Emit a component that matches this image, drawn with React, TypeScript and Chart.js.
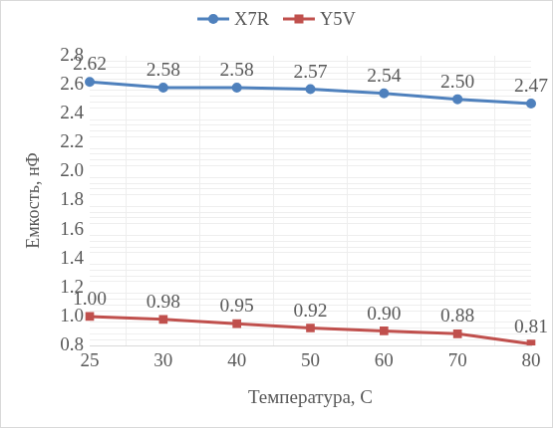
import { useEffect, useRef } from "react";
import { Chart, registerables } from "chart.js";

Chart.register(...registerables);

const temperatures = ["25", "30", "40", "50", "60", "70", "80"];
const x7rValues = [2.62, 2.58, 2.58, 2.57, 2.54, 2.5, 2.47];
const y5vValues = [1.0, 0.98, 0.95, 0.92, 0.9, 0.88, 0.81];

const FONT = "'Liberation Serif', 'Times New Roman', serif";
const TEXT = "#595959";

const isMajor = (v: number) => Math.abs(Math.round(v * 5) - v * 5) < 1e-6;

const valueLabels = {
    id: "valueLabels",
    afterDatasetsDraw(chart: Chart) {
        const ctx = chart.ctx;
        ctx.save();
        ctx.font = `19.5px ${FONT}`;
        ctx.fillStyle = TEXT;
        ctx.textAlign = "center";
        ctx.textBaseline = "middle";
        chart.data.datasets.forEach((ds, i) => {
            chart.getDatasetMeta(i).data.forEach((pt, j) => {
                const v = ds.data[j] as number;
                ctx.fillText(v.toFixed(2), pt.x, pt.y - 17);
            });
        });
        ctx.restore();
    },
};

const lineLegend = {
    id: "lineLegend",
    afterDraw(chart: Chart) {
        const ctx = chart.ctx;
        ctx.save();
        ctx.font = `18.5px ${FONT}`;
        ctx.textBaseline = "middle";
        const items = chart.data.datasets.map((ds: any) => ({
            label: ds.label as string,
            color: ds.borderColor as string,
            style: ds.pointStyle as string,
            w: 32 + 5 + ctx.measureText(ds.label).width,
        }));
        const gap = 14;
        const total = items.reduce((s, it) => s + it.w, 0) + gap * (items.length - 1);
        let x = chart.width / 2 - total / 2;
        const y = 18;
        items.forEach((it) => {
            ctx.strokeStyle = it.color;
            ctx.fillStyle = it.color;
            ctx.lineWidth = 3;
            ctx.beginPath();
            ctx.moveTo(x, y);
            ctx.lineTo(x + 32, y);
            ctx.stroke();
            if (it.style === "rect") {
                ctx.fillRect(x + 16 - 4.5, y - 4.5, 9, 9);
            } else {
                ctx.beginPath();
                ctx.arc(x + 16, y, 5, 0, Math.PI * 2);
                ctx.fill();
            }
            ctx.fillStyle = TEXT;
            ctx.fillText(it.label, x + 37, y + 1);
            x += it.w + gap;
        });
        ctx.restore();
    },
};

export default function App() {
    const canvasRef = useRef<HTMLCanvasElement>(null);

    useEffect(() => {
        document.body.style.margin = "0";
        if (!canvasRef.current) return;

        const chart = new Chart(canvasRef.current, {
            type: "line",
            data: {
                labels: temperatures,
                datasets: [
                    {
                        label: "X7R",
                        data: x7rValues,
                        borderColor: "#4F81BD",
                        backgroundColor: "#4F81BD",
                        borderWidth: 3,
                        pointStyle: "circle",
                        pointRadius: 3.5,
                        tension: 0,
                    },
                    {
                        label: "Y5V",
                        data: y5vValues,
                        borderColor: "#C0504D",
                        backgroundColor: "#C0504D",
                        borderWidth: 3,
                        pointStyle: "rect",
                        pointRadius: 4,
                        tension: 0,
                    },
                ],
            },
            options: {
                animation: false,
                responsive: false,
                layout: { padding: { left: 22, right: 21, top: 55, bottom: 18 } },
                plugins: {
                    legend: { display: false },
                    tooltip: { enabled: false },
                },
                scales: {
                    x: {
                        offset: false,
                        grid: { offset: true, color: "#eeeeee", drawTicks: false },
                        border: { display: true, color: "#d9d9d9" },
                        ticks: {
                            color: TEXT,
                            font: { family: FONT, size: 19 },
                            padding: 5,
                            maxRotation: 0,
                        },
                        title: {
                            display: true,
                            text: "Температура, С",
                            color: TEXT,
                            font: { family: FONT, size: 19 },
                            padding: { top: 10, bottom: 0 },
                        },
                        afterFit: (s: any) => {
                            s.height = 64;
                        },
                    },
                    y: {
                        min: 0.8,
                        max: 2.8,
                        grid: {
                            drawTicks: false,
                            color: (c: any) => (isMajor(c.tick.value) ? "rgba(0,0,0,0)" : "#eeeeee"),
                        },
                        border: { display: false },
                        ticks: {
                            stepSize: 0.04,
                            autoSkip: false,
                            color: TEXT,
                            font: { family: FONT, size: 19 },
                            padding: 6,
                            callback: (v: any) => (isMajor(Number(v)) ? Number(v).toFixed(1) : ""),
                        },
                        title: {
                            display: true,
                            text: "Емкость, нФ",
                            color: TEXT,
                            font: { family: FONT, size: 18 },
                            padding: { top: 0, bottom: 0 },
                        },
                        afterFit: (s: any) => {
                            s.width = 67;
                        },
                    },
                },
            },
            plugins: [valueLabels, lineLegend],
        });

        return () => {
            chart.destroy();
        };
    }, []);

    return (
        <div style={{ position: "relative", width: 553, height: 428 }}>
            <canvas
                ref={canvasRef}
                width={553}
                height={428}
                style={{ position: "absolute", left: 0, top: 0, width: 553, height: 428, border: "1px solid #d9d9d9", boxSizing: "border-box" }}
                role="img"
                aria-label="Line chart of capacitance versus temperature for X7R and Y5V"
            />
        </div>
    );
}
